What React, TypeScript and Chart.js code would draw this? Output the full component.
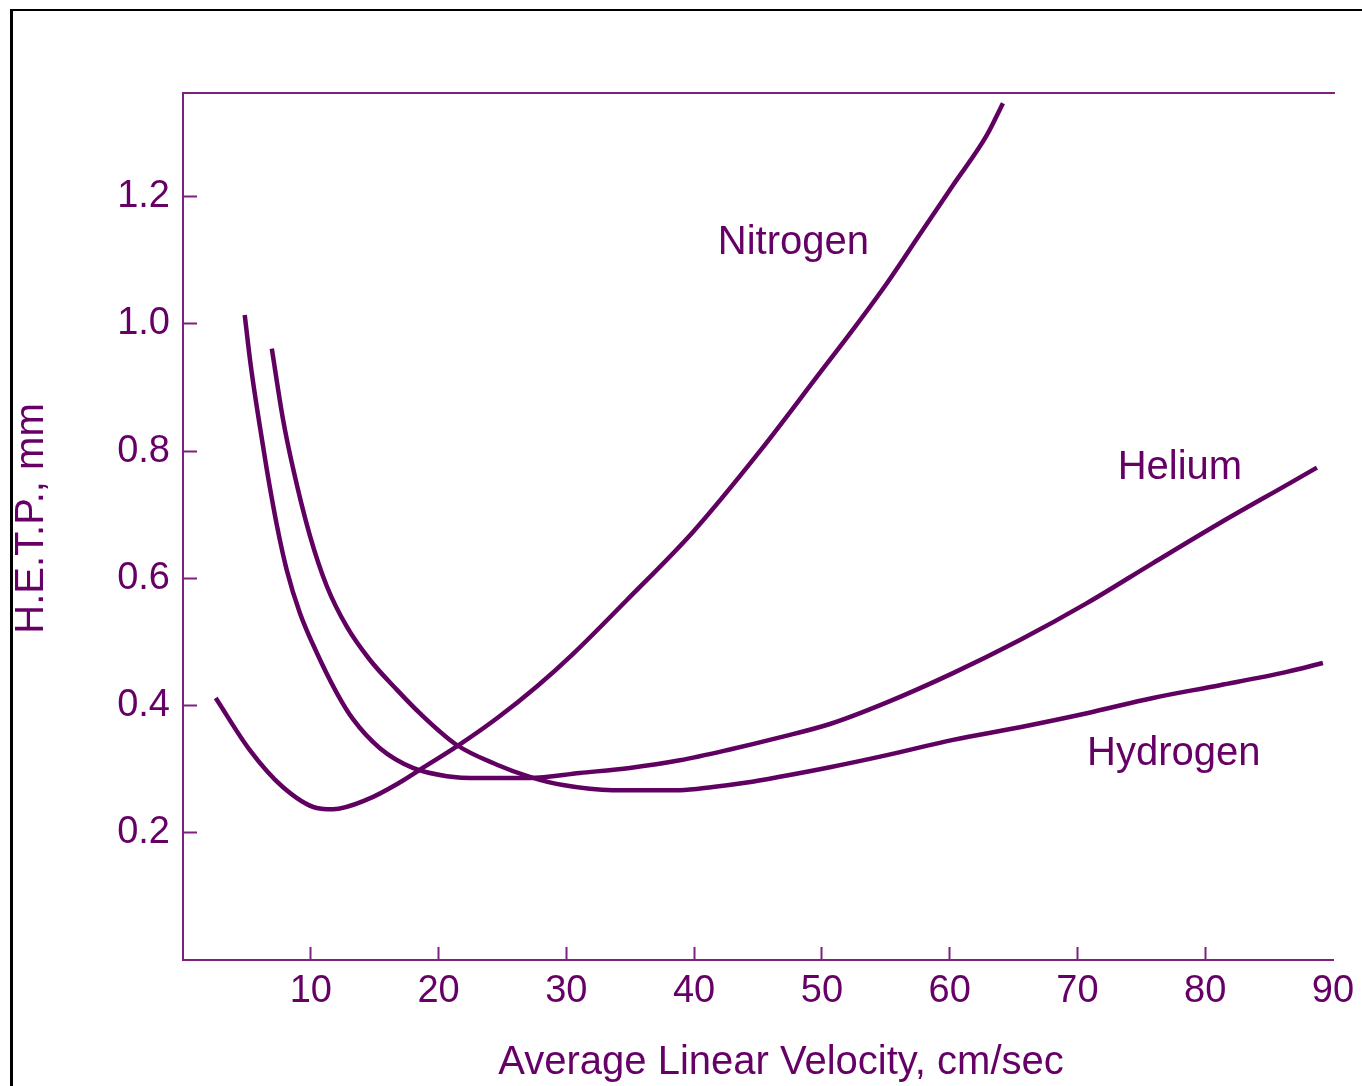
import React, { useEffect, useRef } from "react";
import { Chart, registerables } from "chart.js";

Chart.register(...registerables);

// Axis tick values
const X_TICKS = [10, 20, 30, 40, 50, 60, 70, 80, 90];
const Y_TICKS = [0.2, 0.4, 0.6, 0.8, 1.0, 1.2];

// Van Deemter curves: H.E.T.P. (mm) vs average linear velocity (cm/sec)
const NITROGEN_X = [2.56, 5.23, 7.81, 10.47, 11.72, 14.38, 16.96, 18.53, 21.67, 24.57, 27.69, 30.51, 34.74, 39.91, 45.15, 49.84, 52.43, 55.09, 57.67, 60.26, 62.92, 64.17];
const NITROGEN_Y = [0.412, 0.330, 0.272, 0.239, 0.237, 0.252, 0.279, 0.299, 0.339, 0.380, 0.430, 0.481, 0.566, 0.673, 0.800, 0.923, 0.991, 1.064, 1.141, 1.218, 1.297, 1.347];

const HELIUM_X = [4.83, 5.30, 5.99, 6.55, 7.34, 8.12, 9.14, 10.47, 12.03, 13.29, 15.41, 17.99, 20.65, 23.23, 27.14, 31.05, 34.97, 38.88, 42.80, 46.71, 50.63, 55.09, 60.26, 65.50, 70.74, 75.91, 81.15, 86.39, 88.74];
const HELIUM_Y = [1.014, 0.935, 0.842, 0.772, 0.684, 0.613, 0.546, 0.483, 0.420, 0.379, 0.333, 0.302, 0.289, 0.286, 0.286, 0.294, 0.302, 0.314, 0.331, 0.350, 0.371, 0.405, 0.451, 0.503, 0.561, 0.624, 0.687, 0.747, 0.774];

const HYDROGEN_X = [6.95, 7.81, 8.59, 9.92, 11.25, 12.82, 14.62, 16.73, 18.53, 21.43, 24.57, 27.14, 29.73, 33.64, 38.88, 41.47, 44.13, 46.71, 50.63, 55.09, 60.26, 65.50, 70.74, 75.91, 81.15, 86.39, 89.21];
const HYDROGEN_Y = [0.961, 0.852, 0.775, 0.668, 0.588, 0.524, 0.472, 0.425, 0.388, 0.338, 0.307, 0.288, 0.275, 0.267, 0.267, 0.272, 0.279, 0.288, 0.303, 0.322, 0.346, 0.366, 0.388, 0.412, 0.432, 0.453, 0.467];

// In-plot curve labels (anchored at text baseline start, in data units)
const CURVE_LABELS = ["Nitrogen", "Helium", "Hydrogen"];
const CURVE_LABEL_X = [41.85, 73.15, 70.75];
const CURVE_LABEL_Y = [1.11, 0.756, 0.307];

const X_TITLE = "Average Linear Velocity, cm/sec";
const Y_TITLE = "H.E.T.P., mm";

const FONT = "'Liberation Sans', Arial, sans-serif";
const CURVE_COLOR = "#600060";
const TEXT_COLOR = "#660066";
const AXIS_COLOR = "#7d2080";

const toPoints = (xs: number[], ys: number[]) => xs.map((x, i) => ({ x, y: ys[i] }));

const decorations = {
  id: "decorations",
  afterDraw(chart: any) {
    const { ctx, chartArea: a, scales } = chart;
    ctx.save();
    // top frame line
    ctx.strokeStyle = AXIS_COLOR;
    ctx.lineWidth = 2;
    ctx.beginPath();
    ctx.moveTo(a.left - 1, a.top);
    ctx.lineTo(a.right + 2, a.top);
    ctx.stroke();

    // curve names
    ctx.fillStyle = TEXT_COLOR;
    ctx.font = `40px ${FONT}`;
    ctx.textAlign = "left";
    ctx.textBaseline = "alphabetic";
    CURVE_LABELS.forEach((t, i) => {
      ctx.fillText(t, scales.x.getPixelForValue(CURVE_LABEL_X[i]), scales.y.getPixelForValue(CURVE_LABEL_Y[i]));
    });

    // axis titles
    ctx.textAlign = "center";
    ctx.fillText(X_TITLE, (a.left + a.right) / 2 + 23, a.bottom + 114);
    ctx.translate(43, (a.top + a.bottom) / 2 - 8);
    ctx.rotate(-Math.PI / 2);
    ctx.font = `40px ${FONT}`;
    ctx.fillText(Y_TITLE, 0, 0);
    ctx.restore();
  },
};

export default function App() {
  const canvasRef = useRef<HTMLCanvasElement | null>(null);

  useEffect(() => {
    const canvas = canvasRef.current;
    if (!canvas) return;
    const lineStyle = {
      borderColor: CURVE_COLOR,
      borderWidth: 4.5,
      pointRadius: 0,
      fill: false,
      cubicInterpolationMode: "monotone" as const,
    };
    const chart = new Chart(canvas, {
      type: "line",
      data: {
        datasets: [
          { label: "Nitrogen", data: toPoints(NITROGEN_X, NITROGEN_Y), ...lineStyle },
          { label: "Helium", data: toPoints(HELIUM_X, HELIUM_Y), ...lineStyle },
          { label: "Hydrogen", data: toPoints(HYDROGEN_X, HYDROGEN_Y), ...lineStyle },
        ],
      },
      options: {
        animation: false,
        responsive: false,
        devicePixelRatio: 1,
        layout: { padding: { top: 93, right: 29, left: 0, bottom: 0 } },
        plugins: { legend: { display: false }, tooltip: { enabled: false } },
        scales: {
          x: {
            type: "linear",
            min: 0,
            max: 90,
            border: { display: true, color: AXIS_COLOR, width: 2 },
            grid: {
              drawOnChartArea: false,
              drawTicks: true,
              tickLength: -13,
              tickWidth: 2,
              tickColor: (ctx: any) => (ctx.tick && ctx.tick.value === 90 ? "rgba(0,0,0,0)" : AXIS_COLOR),
            },
            ticks: {
              padding: 22,
              color: TEXT_COLOR,
              font: { family: FONT, size: 38 },
              maxRotation: 0,
              autoSkip: false,
              callback: (v: any) => String(v),
            },
            afterBuildTicks: (s: any) => {
              s.ticks = X_TICKS.map((value) => ({ value }));
            },
            afterFit: (s: any) => {
              s.height = 126;
              s.paddingLeft = 0;
              s.paddingRight = 0;
            },
          },
          y: {
            type: "linear",
            min: 0,
            max: 1.363,
            border: { display: true, color: AXIS_COLOR, width: 2 },
            grid: {
              drawOnChartArea: false,
              drawTicks: true,
              tickLength: -14,
              tickWidth: 2,
              tickColor: AXIS_COLOR,
            },
            ticks: {
              padding: 27,
              color: TEXT_COLOR,
              font: { family: FONT, size: 38 },
              autoSkip: false,
              callback: (v: any) => Number(v).toFixed(1),
            },
            afterBuildTicks: (s: any) => {
              s.ticks = Y_TICKS.map((value) => ({ value }));
            },
            afterFit: (s: any) => {
              s.width = 183;
              s.paddingTop = 0;
              s.paddingBottom = 0;
            },
          },
        },
      },
      plugins: [decorations],
    });
    return () => chart.destroy();
  }, []);

  return (
    <div style={{ position: "absolute", left: 0, top: 0, width: 1362, height: 1086, background: "#fff" }}>
      <canvas ref={canvasRef} width={1362} height={1086} style={{ display: "block", width: 1362, height: 1086 }} />
      <div
        style={{
          position: "absolute",
          left: 10,
          top: 9,
          right: 0,
          bottom: 0,
          borderTop: "2px solid #000",
          borderLeft: "3px solid #000",
          pointerEvents: "none",
        }}
      />
    </div>
  );
}
